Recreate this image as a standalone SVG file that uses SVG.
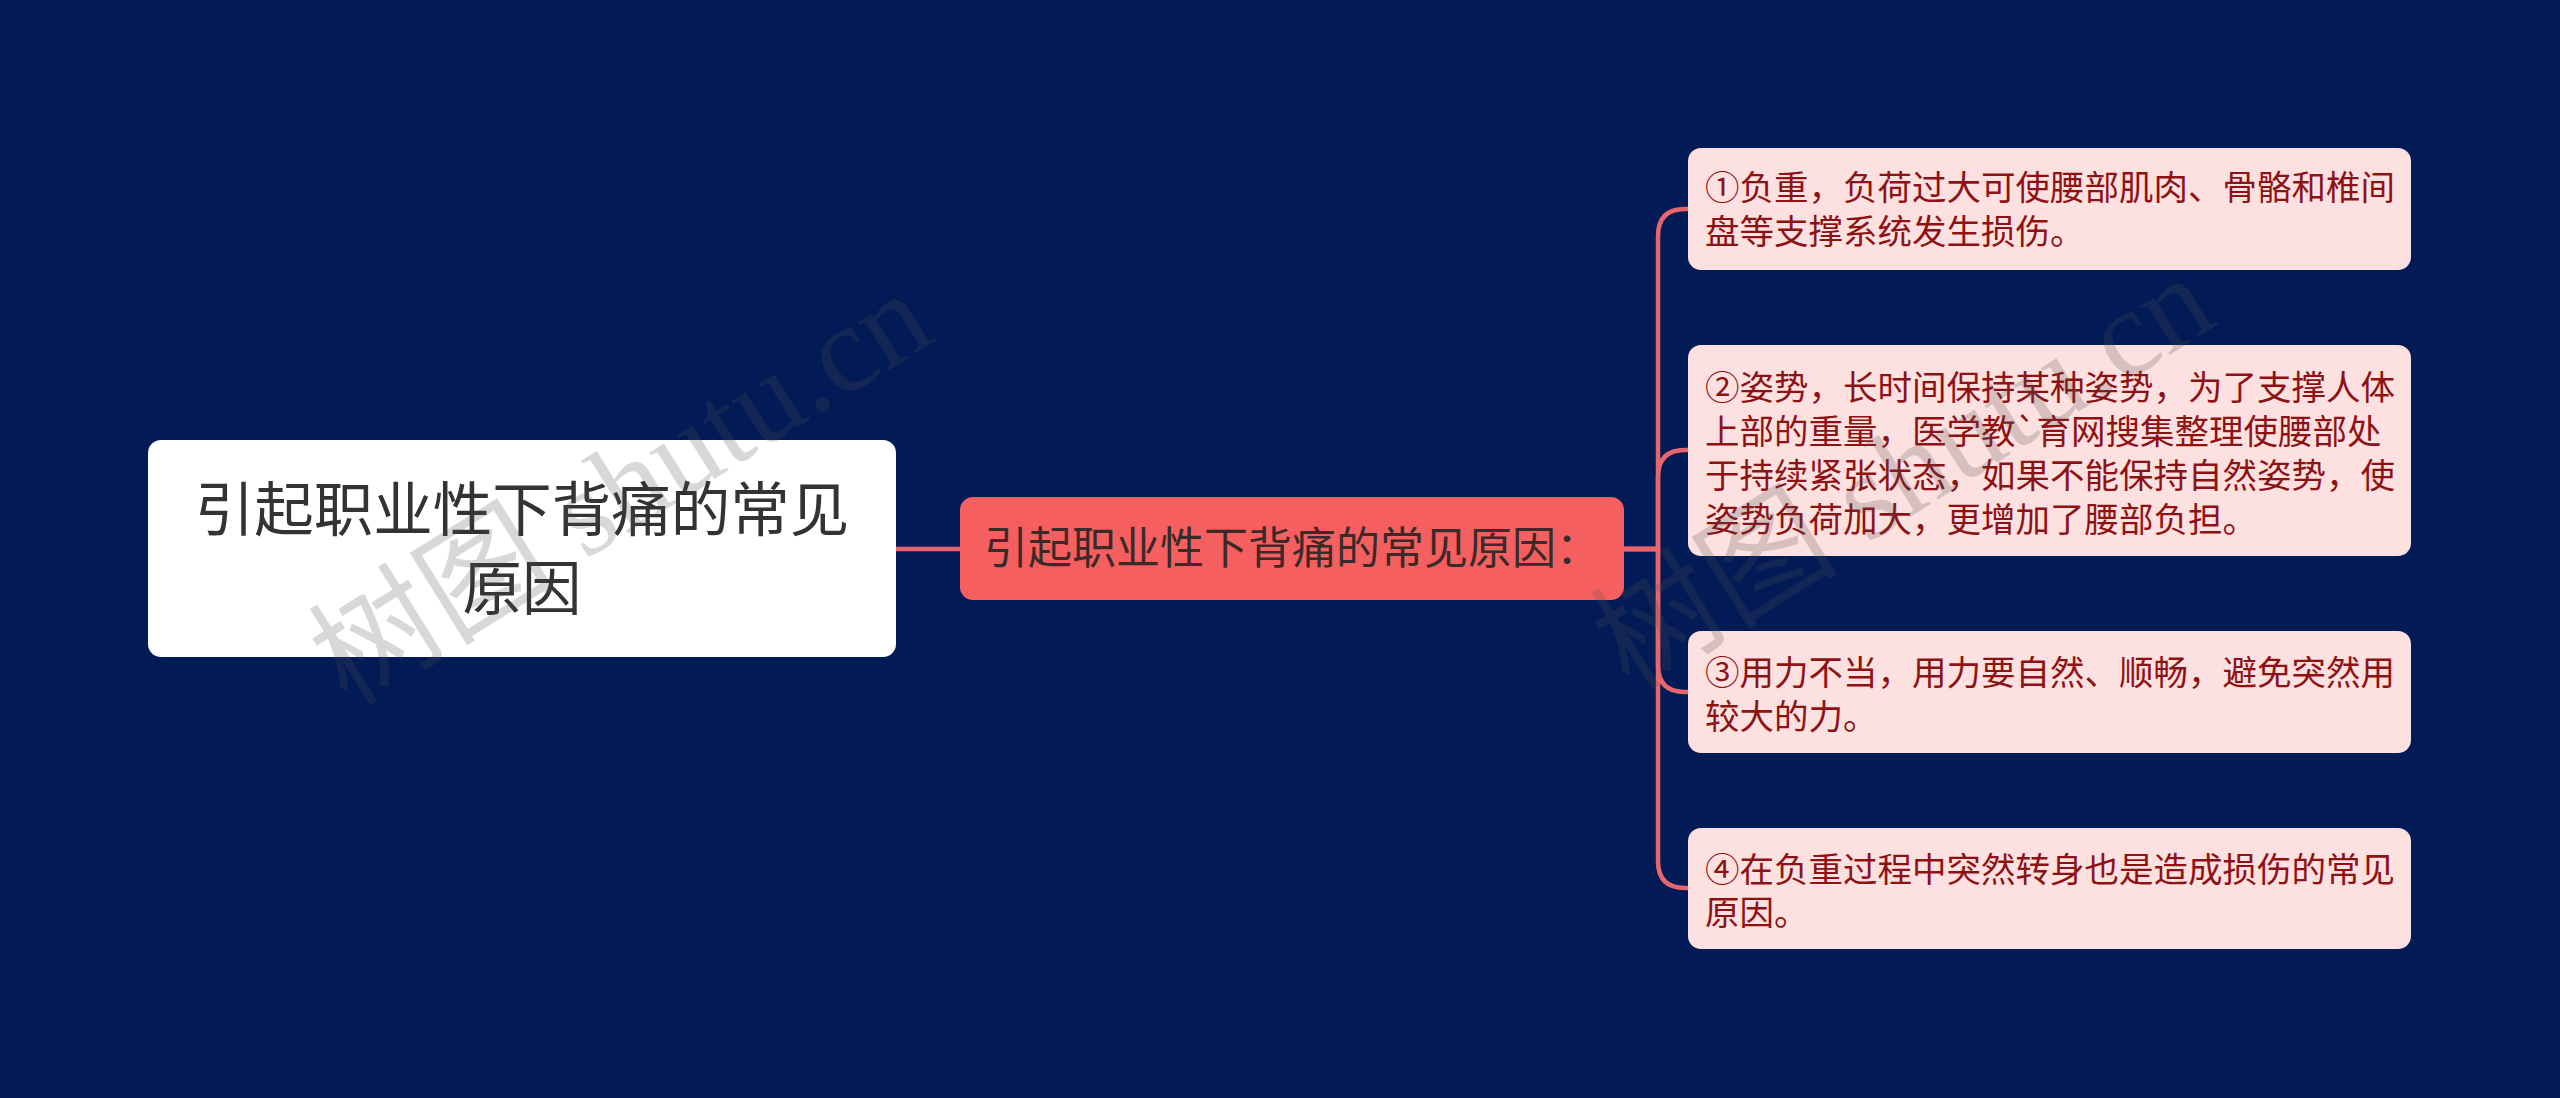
<svg xmlns="http://www.w3.org/2000/svg" width="2560" height="1098" viewBox="0 0 2560 1098">
<style>
.cn{font-family:"Noto Sans CJK SC","Noto Sans",sans-serif}
.root-box{fill:#ffffff}
.root-t{font-size:59.5px;fill:#333333;text-anchor:middle}
.mid-box{fill:#f65f5f}
.mid-t{font-size:44px;fill:#3a2a2a}
.leaf-box{fill:#fde0e0}
.leaf-t{font-size:34.5px;fill:#8e1214}
.conn{fill:none;stroke:#e8656b;stroke-width:4.5;stroke-linecap:round;stroke-linejoin:round}
.wm{font-family:"Liberation Serif","Noto Sans CJK SC",serif;font-size:124px;fill:#505050;opacity:0.22}
</style>
<rect x="0" y="0" width="2560" height="1098" fill="#021b56"/>
<g id="connectors">
<path class="conn" d="M896,549 H960"/>
<path class="conn" d="M1624,549 H1658 V236 Q1658,209 1685,209 H1688"/>
<path class="conn" d="M1624,549 H1658 V477 Q1658,450 1685,450 H1688"/>
<path class="conn" d="M1624,549 H1658 V665 Q1658,692 1685,692 H1688"/>
<path class="conn" d="M1624,549 H1658 V861 Q1658,888 1685,888 H1688"/>
</g>
<g id="root">
<rect class="root-box" x="148" y="440" width="748" height="217" rx="13"/>
<text class="cn root-t" x="522" y="531">引起职业性下背痛的常见</text>
<text class="cn root-t" x="522" y="610">原因</text>
</g>
<g id="mid">
<rect class="mid-box" x="960" y="497" width="664" height="103" rx="13"/>
<text class="cn mid-t" x="984" y="564">引起职业性下背痛的常见原因：</text>
</g>
<g id="leaf1">
<rect class="leaf-box" x="1688" y="148" width="723" height="122" rx="13"/>
<text class="cn leaf-t" x="1705" y="200">①负重，负荷过大可使腰部肌肉、骨骼和椎间</text>
<text class="cn leaf-t" x="1705" y="244">盘等支撑系统发生损伤。</text>
</g>
<g id="leaf2">
<rect class="leaf-box" x="1688" y="345" width="723" height="211" rx="13"/>
<text class="cn leaf-t" x="1705" y="400">②姿势，长时间保持某种姿势，为了支撑人体</text>
<text class="cn leaf-t" x="1705" y="444">上部的重量，医学教`育网搜集整理使腰部处</text>
<text class="cn leaf-t" x="1705" y="488">于持续紧张状态，如果不能保持自然姿势，使</text>
<text class="cn leaf-t" x="1705" y="532">姿势负荷加大，更增加了腰部负担。</text>
</g>
<g id="leaf3">
<rect class="leaf-box" x="1688" y="631" width="723" height="122" rx="13"/>
<text class="cn leaf-t" x="1705" y="685">③用力不当，用力要自然、顺畅，避免突然用</text>
<text class="cn leaf-t" x="1705" y="729">较大的力。</text>
</g>
<g id="leaf4">
<rect class="leaf-box" x="1688" y="828" width="723" height="121" rx="13"/>
<text class="cn leaf-t" x="1705" y="882">④在负重过程中突然转身也是造成损伤的常见</text>
<text class="cn leaf-t" x="1705" y="925">原因。</text>
</g>
<g id="watermark">
<text class="wm" x="348" y="708" transform="rotate(-32 348 708)">树图 shutu.cn</text>
<text class="wm" x="1630" y="692" transform="rotate(-32 1630 692)">树图 shutu.cn</text>
</g>
</svg>
